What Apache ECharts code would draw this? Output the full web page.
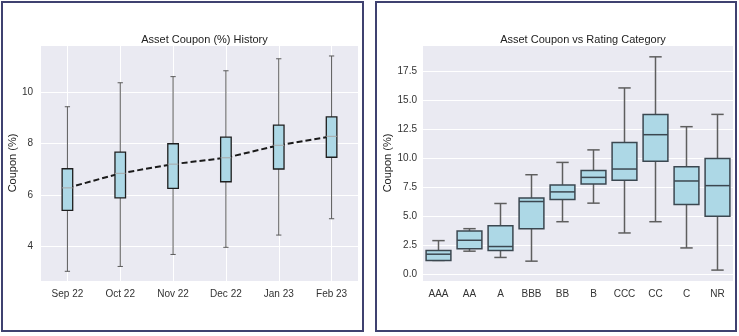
<!DOCTYPE html>
<html><head><meta charset="utf-8">
<script src="https://cdn.jsdelivr.net/npm/echarts@6/dist/echarts.min.js"></script>
<style>html,body{margin:0;padding:0;background:#fff}#c{width:739px;height:336px}</style>
</head><body><div id="c"></div>
<script>
// ---- Data: left panel (monthly history) ----
const months = ['Sep 22','Oct 22','Nov 22','Dec 22','Jan 23','Feb 23'];
const histLow    = [3.00, 3.19, 3.66, 3.94, 4.42, 5.06];
const histQ1     = [5.39, 5.88, 6.25, 6.51, 7.01, 7.47];
const histMedian = [6.27, 6.84, 7.20, 7.45, 7.94, 8.29];
const histQ3     = [7.02, 7.67, 8.00, 8.26, 8.73, 9.05];
const histHigh   = [9.45, 10.39, 10.63, 10.86, 11.33, 11.44];
const histTrend  = [6.27, 6.84, 7.20, 7.45, 7.94, 8.29];

// ---- Data: right panel (rating category) ----
const ratings    = ['AAA','AA','A','BBB','BB','B','CCC','CC','C','NR'];
const rateLow    = [1.17, 1.97, 1.43, 1.11, 4.51, 6.11, 3.54, 4.51, 2.25, 0.34];
const rateQ1     = [1.17, 2.17, 2.03, 3.91, 6.42, 7.76, 8.08, 9.73, 5.99, 4.99];
const rateMedian = [1.71, 2.91, 2.37, 6.25, 7.08, 8.33, 9.05, 12.01, 8.02, 7.62];
const rateQ3     = [2.03, 3.71, 4.17, 6.56, 7.68, 8.93, 11.33, 13.76, 9.25, 9.96];
const rateHigh   = [2.88, 3.91, 6.08, 8.56, 9.62, 10.70, 16.04, 18.72, 12.70, 13.76];

const FONT = 'Liberation Sans, Arial, sans-serif';
const histRows = months.map((m, i) => [i, histLow[i], histQ1[i], histMedian[i], histQ3[i], histHigh[i]]);
const rateRows = ratings.map((r, i) => [i, rateLow[i], rateQ1[i], rateMedian[i], rateQ3[i], rateHigh[i]]);

function boxRender(o) {
  return function (params, api) {
    const i = api.value(0);
    const pLo = api.coord([i, api.value(1)]);
    const pQ1 = api.coord([i, api.value(2)]);
    const pMed = api.coord([i, api.value(3)]);
    const pQ3 = api.coord([i, api.value(4)]);
    const pHi = api.coord([i, api.value(5)]);
    const band = api.size([1, 0])[0];
    const bw = band * o.box, cw = band * o.cap;
    const x = pMed[0];
    const wl = { stroke: o.whisker, lineWidth: o.whiskerWidth, fill: null };
    return { type: 'group', children: [
      { type: 'line', shape: { x1: x, y1: pHi[1], x2: x, y2: pQ3[1] }, style: wl },
      { type: 'line', shape: { x1: x, y1: pQ1[1], x2: x, y2: pLo[1] }, style: wl },
      { type: 'line', shape: { x1: x - cw / 2, y1: pHi[1], x2: x + cw / 2, y2: pHi[1] }, style: wl },
      { type: 'line', shape: { x1: x - cw / 2, y1: pLo[1], x2: x + cw / 2, y2: pLo[1] }, style: wl },
      { type: 'rect', shape: { x: x - bw / 2, y: pQ3[1], width: bw, height: pQ1[1] - pQ3[1] },
        style: { fill: o.fill, stroke: o.edge, lineWidth: o.edgeWidth } },
      { type: 'line', shape: { x1: x - bw / 2, y1: pMed[1], x2: x + bw / 2, y2: pMed[1] },
        style: { stroke: o.median, lineWidth: o.medianWidth, fill: null } }
    ]};
  };
}

const chart = echarts.init(document.getElementById('c'));
const labelStyle = { color: '#333', fontSize: 10, fontFamily: FONT };
chart.setOption({
  animation: false,
  backgroundColor: '#fff',
  title: [
    { text: 'Asset Coupon (%) History', left: 199.5, top: 29, textAlign: 'center',
      textStyle: { fontSize: 11, fontWeight: 'normal', color: '#222', fontFamily: FONT } },
    { text: 'Asset Coupon vs Rating Category', left: 578, top: 29, textAlign: 'center',
      textStyle: { fontSize: 11, fontWeight: 'normal', color: '#222', fontFamily: FONT } }
  ],
  graphic: [
    { type: 'rect', shape: { x: 2, y: 2, width: 361, height: 329 }, style: { fill: null, stroke: '#3f4170', lineWidth: 2 }, z: 100 },
    { type: 'rect', shape: { x: 376, y: 2, width: 360, height: 329 }, style: { fill: null, stroke: '#3f4170', lineWidth: 2 }, z: 100 }
  ],
  grid: [
    { left: 41, top: 45, width: 317, height: 236, show: true, backgroundColor: '#eaeaf2', borderWidth: 0 },
    { left: 423, top: 45, width: 310, height: 236, show: true, backgroundColor: '#eaeaf2', borderWidth: 0 }
  ],
  xAxis: [
    { type: 'category', gridIndex: 0, data: months, boundaryGap: true,
      axisLine: { show: false }, axisTick: { show: false },
      axisLabel: Object.assign({ margin: 8 }, labelStyle),
      splitLine: { show: true, alignWithLabel: true, lineStyle: { color: '#fff', width: 1 } } },
    { type: 'category', gridIndex: 1, data: ratings, boundaryGap: true,
      axisLine: { show: false }, axisTick: { show: false },
      axisLabel: Object.assign({ margin: 8 }, labelStyle),
      splitLine: { show: false } }
  ],
  yAxis: [
    { type: 'value', gridIndex: 0, min: 2.62, max: 11.87, minInterval: 2, maxInterval: 2,
      name: 'Coupon (%)', nameLocation: 'middle', nameRotate: 90, nameGap: 21,
      nameTextStyle: { fontSize: 11, color: '#222', fontFamily: FONT },
      axisLine: { show: false }, axisTick: { show: false },
      axisLabel: Object.assign({ margin: 8, showMinLabel: false, showMaxLabel: false }, labelStyle),
      splitLine: { show: true, lineStyle: { color: '#fff', width: 1 } } },
    { type: 'value', gridIndex: 1, min: -0.6, max: 19.74, minInterval: 2.5, maxInterval: 2.5,
      name: 'Coupon (%)', nameLocation: 'middle', nameRotate: 90, nameGap: 29,
      nameTextStyle: { fontSize: 11, color: '#222', fontFamily: FONT },
      axisLine: { show: false }, axisTick: { show: false },
      axisLabel: Object.assign({ margin: 6, showMinLabel: false, showMaxLabel: false,
        formatter: v => v.toFixed(1) }, labelStyle),
      splitLine: { show: true, lineStyle: { color: '#fff', width: 1 } } }
  ],
  series: [
    { type: 'line', xAxisIndex: 0, yAxisIndex: 0, data: histTrend, symbol: 'none', z: 1,
      lineStyle: { color: '#1a1a1a', width: 2, type: [6, 3] } },
    { type: 'custom', xAxisIndex: 0, yAxisIndex: 0, data: histRows, z: 3,
      encode: { x: 0, y: [1, 2, 3, 4, 5] },
      renderItem: boxRender({ box: 0.2, cap: 0.1, fill: '#add8e6', edge: '#1e1e1e', edgeWidth: 1.3,
        median: '#a8a8a8', medianWidth: 1, whisker: '#5a5a5a', whiskerWidth: 1 }) },
    { type: 'custom', xAxisIndex: 1, yAxisIndex: 1, data: rateRows, z: 3,
      encode: { x: 0, y: [1, 2, 3, 4, 5] },
      renderItem: boxRender({ box: 0.8, cap: 0.4, fill: '#add8e6', edge: '#3b4750', edgeWidth: 1.5,
        median: '#3b4750', medianWidth: 1.5, whisker: '#5e5e5e', whiskerWidth: 1.5 }) }
  ]
});
</script></body></html>
